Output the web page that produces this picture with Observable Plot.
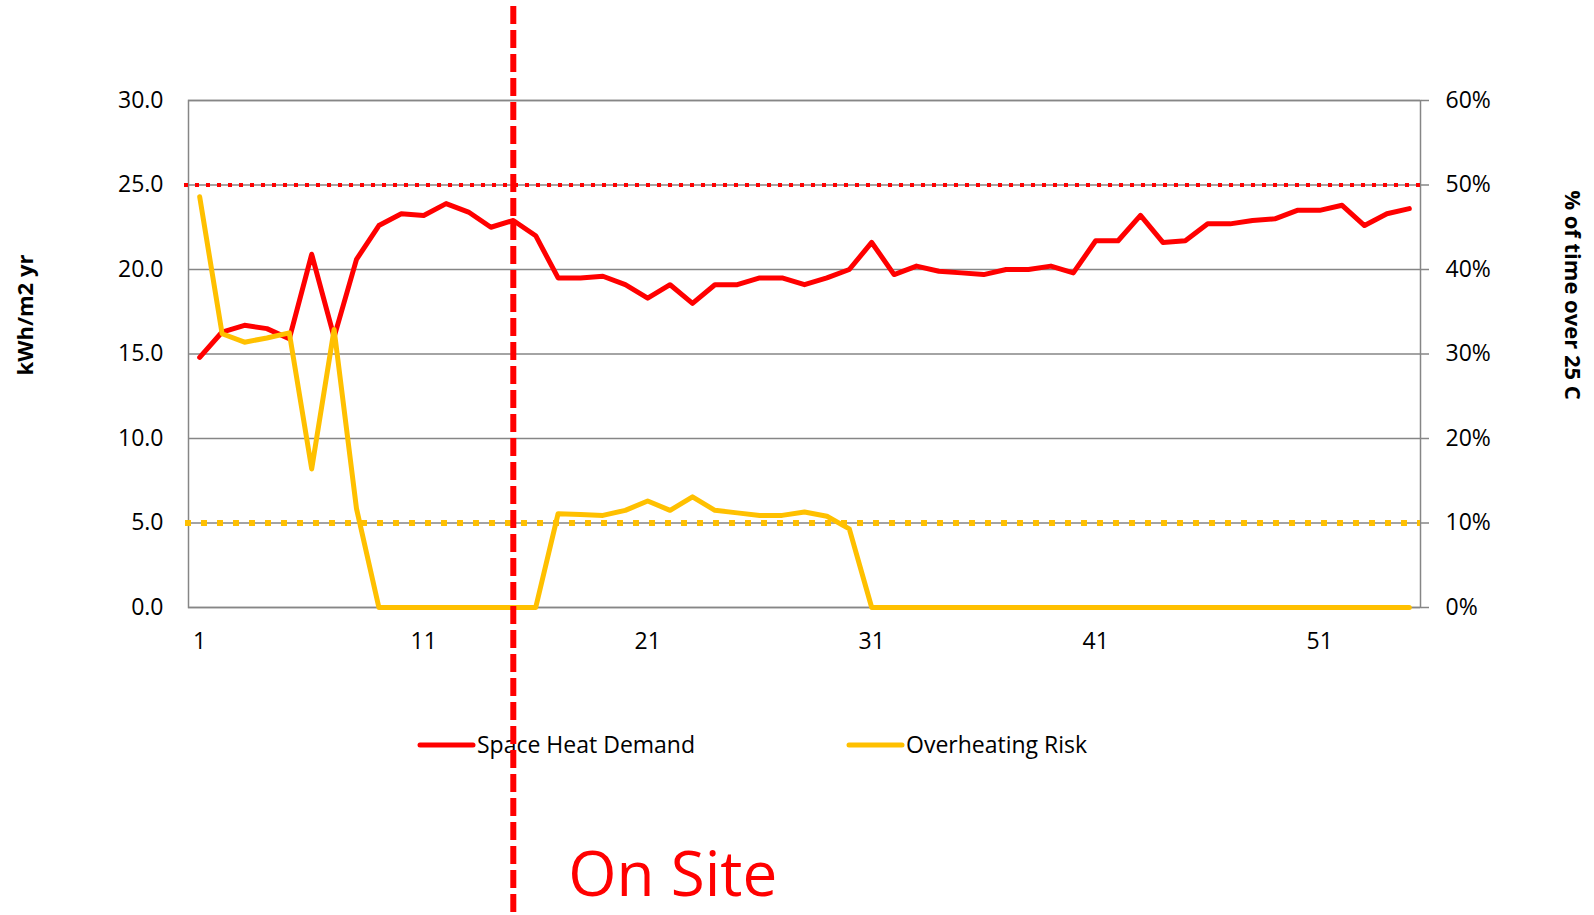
<!DOCTYPE html>
<html>
<head>
<meta charset="utf-8">
<script src="https://cdn.jsdelivr.net/npm/d3@7"></script>
<script src="https://cdn.jsdelivr.net/npm/@observablehq/plot@0.6"></script>
<style>
  html, body { margin: 0; padding: 0; background: #fff; }
  #chart svg { display: block; }
</style>
</head>
<body>
<div id="chart"></div>
<script>
// ---- data ----
const categories = [1,2,3,4,5,6,7,8,9,10,11,12,13,14,15,16,17,18,19,20,21,22,23,24,25,26,27,28,29,30,31,32,33,34,35,36,37,38,39,40,41,42,43,44,45,46,47,48,49,50,51,52,53,54,55];
const spaceHeatDemand = [14.8,16.3,16.7,16.5,15.9,20.9,16.0,20.6,22.6,23.3,
                         23.2,23.9,23.4,22.5,22.9,22.0,19.5,19.5,19.6,19.1,
                         18.3,19.1,18.0,19.1,19.1,19.5,19.5,19.1,19.5,20.0,
                         21.6,19.7,20.2,19.9,19.8,19.7,20.0,20.0,20.2,19.8,
                         21.7,21.7,23.2,21.6,21.7,22.7,22.7,22.9,23.0,23.5,
                         23.5,23.8,22.6,23.3,23.6];
const overheatingRisk = [48.6,32.4,31.4,31.9,32.5,16.4,32.9,11.7,0,0,
                         0,0,0,0,0,0,11.1,11.0,10.9,11.5,
                         12.6,11.5,13.1,11.5,11.2,10.9,10.9,11.3,10.8,9.3,
                         0,0,0,0,0,0,0,0,0,0,
                         0,0,0,0,0,0,0,0,0,0,
                         0,0,0,0,0];
const heatLimit = [25];          // kWh/m2 yr
const overheatLimit = [10];      // %
const marker = [15];
const markerLabel = ["On Site"];
const leftTicks = [0,5,10,15,20,25,30];
const xTicks = [1,11,21,31,41,51];
const seriesNames = ["Space Heat Demand", "Overheating Risk"];
const seriesColors = ["#ff0000", "#ffc000"];
const leftTitle = "kWh/m2 yr";
const rightTitle = "% of time over 25 C";

// ---- layout ----
const FONT = "'Open Sans', 'DejaVu Sans', sans-serif";
const W = 1594, H = 915;
const ML = 188, MR = 174, MT = 100, MB = 308;
const pctToLeft = p => p / 2; // 60% maps onto 30 kWh

const heatRows = categories.map((c, i) => ({c, v: spaceHeatDemand[i]}));
const riskRows = categories.map((c, i) => ({c, v: overheatingRisk[i]}));

const plot = Plot.plot({
  width: W, height: H,
  marginLeft: ML, marginRight: MR, marginTop: MT, marginBottom: MB,
  style: {fontFamily: FONT, fontSize: "23px", color: "#000", background: "#fff", overflow: "visible"},
  x: {type: "linear", domain: [0.5, categories.length + 0.5]},
  y: {domain: [0, 30]},
  marks: [
    Plot.gridY(leftTicks, {stroke: "#868686", strokeOpacity: 1, strokeWidth: 1.5}),
    Plot.frame({stroke: "#868686", strokeWidth: 1.5}),
    Plot.axisY(leftTicks, {tickFormat: d => d.toFixed(1), tickSize: 0, tickPadding: 25, label: null, fontSize: 23, fill: "#000"}),
    Plot.axisY(leftTicks, {anchor: "right", tickFormat: d => (d * 2) + "%", tickSize: 8, tickPadding: 17, label: null, fontSize: 23, stroke: "#868686", strokeWidth: 1.5, fill: "#000"}),
    Plot.axisX(xTicks, {tickFormat: d => String(d), tickSize: 0, tickPadding: 25, label: null, fontSize: 23, fill: "#000"}),
    Plot.ruleY(heatLimit, {stroke: seriesColors[0], strokeWidth: 4, strokeDasharray: "4,7", insetLeft: -4}),
    Plot.ruleY(overheatLimit, {y: d => pctToLeft(d), stroke: seriesColors[1], strokeWidth: 6, strokeDasharray: "6,10", insetLeft: -3}),
    Plot.line(heatRows, {x: "c", y: "v", stroke: seriesColors[0], strokeWidth: 5}),
    Plot.line(riskRows, {x: "c", y: d => pctToLeft(d.v), stroke: seriesColors[1], strokeWidth: 5}),
    Plot.text([leftTitle], {text: d => d, frameAnchor: "left", textAnchor: "middle", lineAnchor: "middle", dx: -163, dy: -39, rotate: -90, fontWeight: "bold", fontSize: 22, fill: "#000"}),
    Plot.text([rightTitle], {text: d => d, frameAnchor: "right", textAnchor: "middle", lineAnchor: "middle", dx: 152, dy: -59, rotate: 90, fontWeight: "bold", fontSize: 22, fill: "#000"}),
    Plot.text(markerLabel, {x: marker, text: d => d, frameAnchor: "bottom", textAnchor: "start", lineAnchor: "middle", dx: 55, dy: 269, fill: seriesColors[0], fontSize: 62}),
    Plot.ruleX(marker, {stroke: seriesColors[0], strokeWidth: 6, strokeDasharray: "18,6", insetTop: -94, insetBottom: -305, ariaDescription: "onsite-marker"})
  ]
});

document.getElementById("chart").appendChild(plot);

// ---- legend (below the plot area, under the marker line) ----
const svg = d3.select(plot);
const markerNode = plot.querySelector('[aria-description="onsite-marker"]');
const legend = markerNode ? svg.insert("g", () => markerNode) : svg.append("g");
legend.attr("text-anchor", "start");
const legendItems = [
  {name: seriesNames[0], color: seriesColors[0], x: 420},
  {name: seriesNames[1], color: seriesColors[1], x: 849}
];
const legendY = 745;
legendItems.forEach(it => {
  legend.append("line")
    .attr("x1", it.x).attr("x2", it.x + 53)
    .attr("y1", legendY).attr("y2", legendY)
    .attr("stroke", it.color).attr("stroke-width", 5).attr("stroke-linecap", "round");
  legend.append("text")
    .attr("x", it.x + 57).attr("y", legendY)
    .attr("dy", "0.35em")
    .attr("text-anchor", "start")
    .attr("font-family", FONT).attr("font-size", 23).attr("fill", "#000")
    .text(it.name);
});
</script>
</body>
</html>
